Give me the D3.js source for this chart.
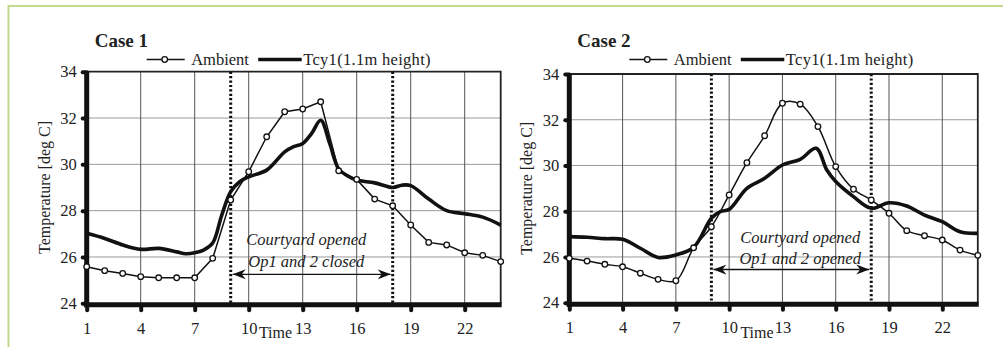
<!DOCTYPE html>
<html><head><meta charset="utf-8">
<script src="https://cdn.jsdelivr.net/npm/d3@7"></script>
<style>
html,body{margin:0;padding:0;background:#fff;}
svg{display:block;}
svg text{font-family:"Liberation Serif","DejaVu Serif",serif;}
</style></head>
<body>
<svg id="c" width="1003" height="347"></svg>
<script>
// ---- data ----
const hours = d3.range(1, 25);
const xTicks = [1, 4, 7, 10, 13, 16, 19, 22];
const yTicks = [24, 26, 28, 30, 32, 34];
const openStart = 9, openEnd = 18;

const ambient1 = [25.58,25.41,25.29,25.15,25.1,25.1,25.1,25.94,28.46,29.68,31.19,32.27,32.39,32.7,29.72,29.35,28.5,28.21,27.38,26.63,26.52,26.18,26.07,25.8];
const tcyTime1 = [1,2,3,4,5,6,6.5,7,7.5,8,8.5,9,9.5,10,11,12,12.5,13,13.5,14,14.5,15,15.5,16,17,18,18.5,19,20,21,22,23,24];
const tcy1 = [27.02,26.8,26.52,26.33,26.37,26.22,26.14,26.18,26.3,26.6,27.8,28.82,29.25,29.46,29.75,30.54,30.76,30.9,31.34,31.9,30.9,29.8,29.5,29.32,29.2,29.0,29.1,29.08,28.5,28.0,27.87,27.72,27.38];

const ambient2 = [25.94,25.82,25.68,25.57,25.29,25.02,24.96,26.4,27.32,28.71,30.12,31.3,32.72,32.68,31.7,29.95,28.96,28.49,27.91,27.15,26.93,26.74,26.3,26.07];
const tcyTime2 = [1,2,3,4,5,6,7,8,9,9.5,10,11,12,13,14,14.9,15.5,16,17,18,19,20,21,22,23,24];
const tcy2 = [26.89,26.86,26.8,26.77,26.38,25.98,26.09,26.42,27.69,27.98,28.08,29.0,29.44,30.02,30.27,30.75,29.8,29.3,28.64,28.13,28.37,28.23,27.83,27.54,27.1,27.03];

const titles = ["Case 1", "Case 2"];
const legendLabels = ["Ambient", "Tcy1(1.1m height)"];
const noteLine1 = "Courtyard opened";
const noteLines2 = ["Op1 and 2 closed", "Op1 and 2 opened"];

const FONT = "'Liberation Serif','DejaVu Serif',serif";
const svg = d3.select("#c");

// outer green frame
svg.append("rect").attr("x",8.5).attr("y",6).attr("width",1010).attr("height",360)
  .attr("fill","none").attr("stroke","#c3d98e").attr("stroke-width",2);

const panels = [
  {x0:86.7, x1:500.7, yTop:71.7, yBot:303.3, amb:ambient1, tt:tcyTime1, tv:tcy1, ambCurve:d3.curveLinear,
   title:titles[0], note2:noteLines2[0], noteH:13.2, noteT1:26.52, noteT2:25.58, arrowT:25.25,
   legX:146.7, yLabX:45, timeX:275.5},
  {x0:569.3, x1:977.8, yTop:74, yBot:302.7, amb:ambient2, tt:tcyTime2, tv:tcy2, ambCurve:d3.curveCatmullRom.alpha(0.5),
   title:titles[1], note2:noteLines2[1], noteH:14.0, noteT1:26.62, noteT2:25.68, arrowT:25.45,
   legX:629.3, yLabX:526.7, timeX:757}
];

const defs = svg.append("defs");
defs.append("marker").attr("id","ah").attr("viewBox","0 -6 14 12").attr("refX",13).attr("refY",0)
  .attr("markerWidth",14).attr("markerHeight",12).attr("markerUnits","userSpaceOnUse").attr("orient","auto-start-reverse")
  .append("path").attr("d","M0,-5 L13,0 L0,5 L4,0 Z").attr("fill","#111");

panels.forEach((p) => {
  const x = d3.scaleLinear().domain([1,24]).range([p.x0,p.x1]);
  const y = d3.scaleLinear().domain([24,34]).range([p.yBot,p.yTop]);
  const g = svg.append("g");

  // grid
  g.selectAll(".hg").data(yTicks.slice(1,-1)).join("line")
    .attr("x1",x(1)).attr("x2",x(24)).attr("y1",d=>y(d)).attr("y2",d=>y(d))
    .attr("stroke","#9a9a9a").attr("stroke-width",1);
  g.selectAll(".vg").data(xTicks.slice(1)).join("line")
    .attr("x1",d=>x(d)).attr("x2",d=>x(d)).attr("y1",y(34)).attr("y2",y(24))
    .attr("stroke","#555").attr("stroke-width",1);
  // top/right border
  g.append("path").attr("d",`M${x(1)},${y(34)} H${x(24)} V${y(24)}`)
    .attr("fill","none").attr("stroke","#222").attr("stroke-width",1.8);

  // dotted open lines
  [openStart, openEnd].forEach(h => {
    g.append("line").attr("x1",x(h)).attr("x2",x(h)).attr("y1",y(34)).attr("y2",y(24))
      .attr("stroke","#111").attr("stroke-width",3).attr("stroke-dasharray","2.2,2.2");
  });

  // axes
  const yAxis = d3.axisLeft(y).tickValues(yTicks).tickSize(4).tickPadding(6);
  const ya = g.append("g").attr("transform",`translate(${x(1)},0)`).call(yAxis);
  const xAxis = d3.axisBottom(x).tickValues(xTicks).tickSize(5).tickPadding(12);
  const xa = g.append("g").attr("transform",`translate(0,${y(24)+2})`).call(xAxis);
  [ya, xa].forEach(a => {
    a.attr("font-family",FONT);
    a.select(".domain").remove();
    a.selectAll(".tick line").attr("stroke","#111").attr("stroke-width",4).attr("stroke-linecap","round");
    a.selectAll(".tick text").attr("font-family",FONT).attr("font-size",16.5).attr("fill","#222");
  });
  g.append("line").attr("x1",x(1)).attr("x2",x(1)).attr("y1",y(34)).attr("y2",y(24)+4)
    .attr("stroke","#111").attr("stroke-width",5);
  g.append("line").attr("x1",x(1)-2.5).attr("x2",x(24)+1).attr("y1",y(24)+1.5).attr("y2",y(24)+1.5)
    .attr("stroke","#111").attr("stroke-width",5);

  // series
  const lineTcy = d3.line().x(d=>x(d[0])).y(d=>y(d[1])).curve(d3.curveCatmullRom.alpha(0.5));
  g.append("path").datum(p.tt.map((t,i)=>[t,p.tv[i]])).attr("d",lineTcy)
    .attr("fill","none").attr("stroke","#111").attr("stroke-width",3.6).attr("stroke-linejoin","round");
  const lineAmb = d3.line().x((d,i)=>x(hours[i])).y(d=>y(d)).curve(p.ambCurve);
  g.append("path").datum(p.amb).attr("d",lineAmb)
    .attr("fill","none").attr("stroke","#111").attr("stroke-width",1.5);
  g.selectAll(".pt").data(p.amb).join("circle")
    .attr("cx",(d,i)=>x(hours[i])).attr("cy",d=>y(d)).attr("r",2.8)
    .attr("fill","#fff").attr("stroke","#111").attr("stroke-width",1.3);

  // annotation
  g.append("text").attr("x",x(p.noteH)).attr("y",y(p.noteT1)).attr("text-anchor","middle")
    .attr("font-family",FONT).attr("font-style","italic").attr("font-size",16.5).attr("fill","#222").text(noteLine1);
  g.append("text").attr("x",x(p.noteH)).attr("y",y(p.noteT2)).attr("text-anchor","middle")
    .attr("font-family",FONT).attr("font-style","italic").attr("font-size",16.5).attr("fill","#222").text(p.note2);
  g.append("line").attr("x1",x(openStart)+2).attr("x2",x(openEnd)-2).attr("y1",y(p.arrowT)).attr("y2",y(p.arrowT))
    .attr("stroke","#111").attr("stroke-width",1.4)
    .attr("marker-start","url(#ah)").attr("marker-end","url(#ah)");

  // titles & labels
  g.append("text").attr("x",p.x0+8).attr("y",47).attr("font-family",FONT).attr("font-weight","bold").attr("font-size",19)
    .attr("fill","#222").text(p.title);
  g.append("text").attr("transform",`translate(${p.yLabX+5},${(p.yTop+p.yBot)/2}) rotate(-90)`)
    .attr("text-anchor","middle").attr("font-family",FONT).attr("font-size",16).attr("fill","#222").text("Temperature [deg C]");
  g.append("text").attr("x",p.timeX).attr("y",338).attr("text-anchor","middle").attr("font-family",FONT).attr("font-size",16)
    .attr("fill","#222").text("Time");

  // legend
  const ly = 59.5;
  g.append("line").attr("x1",p.legX).attr("x2",p.legX+38).attr("y1",ly).attr("y2",ly)
    .attr("stroke","#111").attr("stroke-width",1.5);
  g.append("circle").attr("cx",p.legX+18).attr("cy",ly).attr("r",2.8).attr("fill","#fff")
    .attr("stroke","#111").attr("stroke-width",1.3);
  g.append("text").attr("x",p.legX+44.5).attr("y",ly+5).attr("font-family",FONT).attr("font-size",16.5).attr("fill","#222").text(legendLabels[0]);
  g.append("line").attr("x1",p.legX+111.5).attr("x2",p.legX+155).attr("y1",ly).attr("y2",ly)
    .attr("stroke","#111").attr("stroke-width",3.6);
  g.append("text").attr("x",p.legX+156.5).attr("y",ly+5).attr("font-family",FONT).attr("font-size",16.5).attr("fill","#222")
    .attr("letter-spacing",0.3).text(legendLabels[1]);
});
</script>
</body></html>
